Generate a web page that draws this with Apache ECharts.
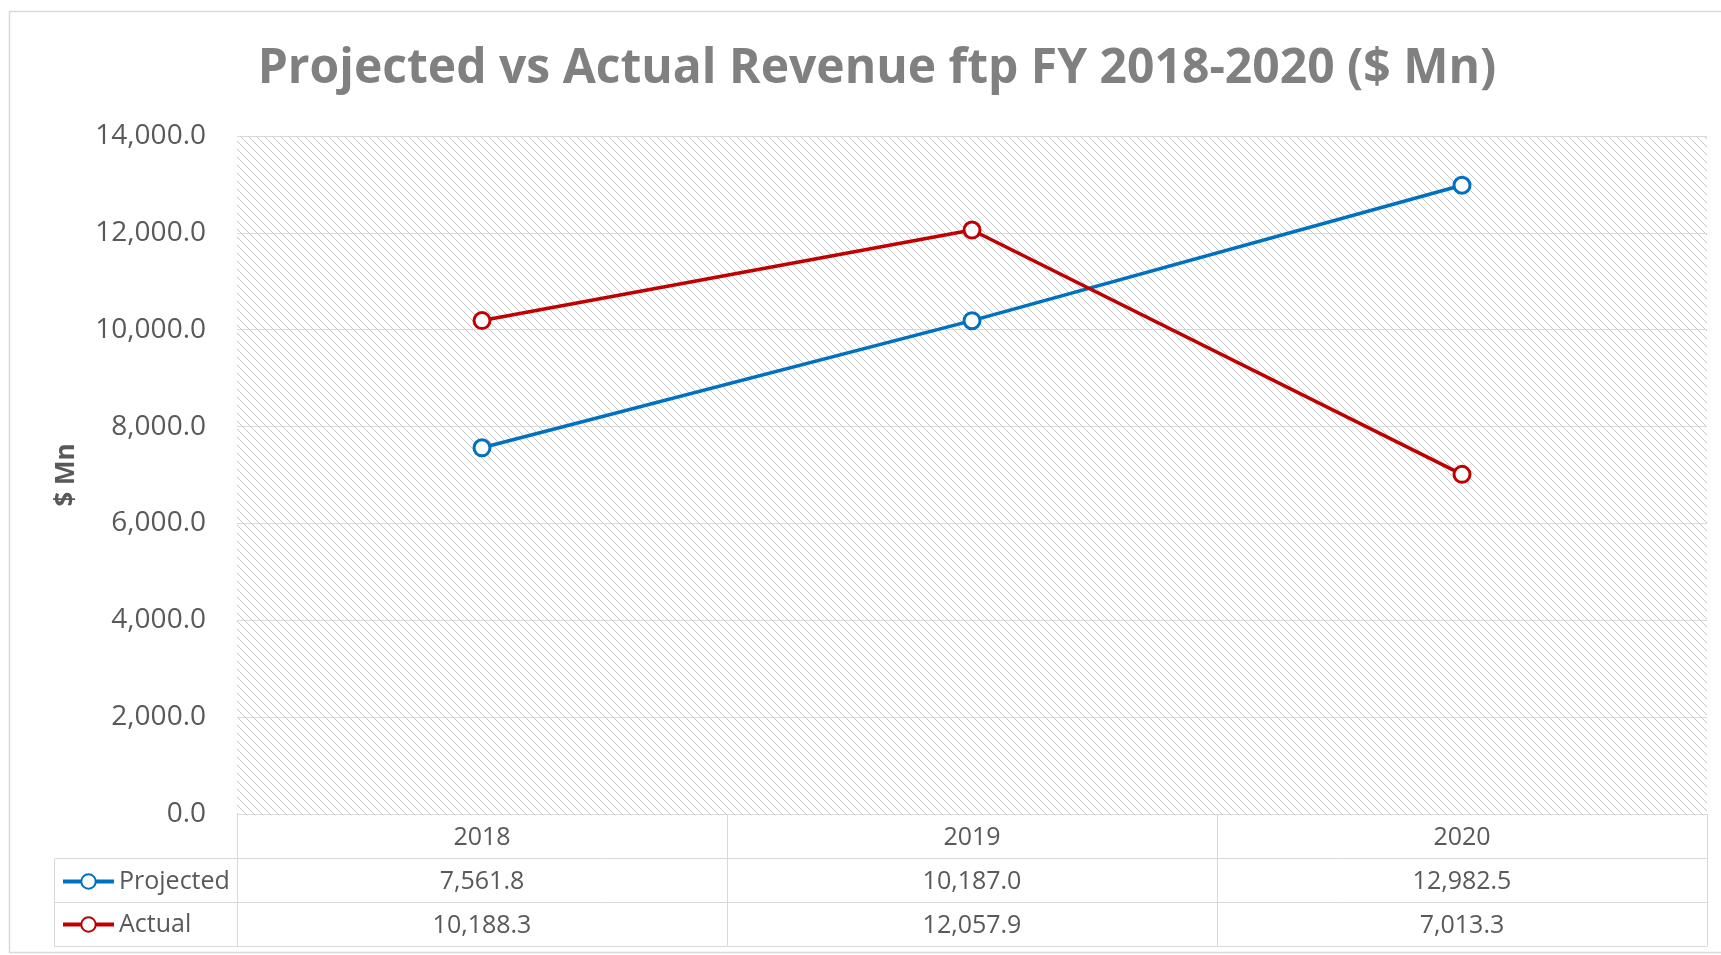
<!DOCTYPE html>
<html>
<head>
<meta charset="utf-8">
<title>Projected vs Actual Revenue</title>
<script src="https://cdn.jsdelivr.net/npm/echarts@6/dist/echarts.min.js"></script>
<style>
  html, body { margin: 0; padding: 0; background: #fff; }
  #chart { width: 1721px; height: 955px; }
</style>
</head>
<body>
<div id="chart"></div>
<script>
// data
const years = ['2018', '2019', '2020']
const projected = [7561.8, 10187.0, 12982.5]
const actual = [10188.3, 12057.9, 7013.3]
const yTicks = { min: 0, max: 14000, interval: 2000 }

const fmt = v => v.toLocaleString('en-US', { minimumFractionDigits: 1, maximumFractionDigits: 1 })

// hatched plot background
function hatch() {
  const c = document.createElement('canvas')
  c.width = 8
  c.height = 8
  const ctx = c.getContext('2d')
  ctx.fillStyle = '#ffffff'
  ctx.fillRect(0, 0, 8, 8)
  ctx.fillStyle = '#c6c6c6'
  for (let i = 0; i < 8; i++) {
    ctx.fillRect(i, i, 1, 1)
  }
  return c
}

const gray = '#595959'
const lineGray = '#d9d9d9'
const rowH = 44
const font = 'Open Sans'

function tableAxis(data, offset, showLabel) {
  return {
    type: 'category',
    data: data,
    position: 'bottom',
    offset: offset,
    boundaryGap: true,
    axisLine: { show: true, lineStyle: { color: lineGray, width: 1 } },
    axisTick: { show: showLabel, length: rowH, lineStyle: { color: lineGray, width: 1 } },
    axisLabel: { show: showLabel, margin: 11, color: gray, fontSize: 25, fontFamily: font },
    splitLine: { show: false }
  }
}

const myChart = echarts.init(document.getElementById('chart'))
myChart.setOption({
  backgroundColor: '#fff',
  animation: false,
  title: {
    text: 'Projected vs Actual Revenue ftp FY 2018-2020 ($ Mn)',
    left: 872,
    top: 40,
    textAlign: 'center',
    textStyle: { color: '#808080', fontSize: 48, fontWeight: 'bold', fontFamily: font }
  },
  legend: {
    orient: 'vertical',
    left: 56,
    top: 864,
    itemWidth: 51,
    itemHeight: 18,
    itemGap: 18,
    lineStyle: { width: 4 },
    textStyle: { color: gray, fontSize: 25, fontFamily: font },
    data: ['Projected', 'Actual']
  },
  grid: {
    left: 237,
    right: 14,
    top: 136,
    bottom: 141,
    show: true,
    borderWidth: 0,
    backgroundColor: { image: hatch(), repeat: 'repeat' }
  },
  xAxis: [
    tableAxis(years, 0, true),
    tableAxis(projected.map(fmt), rowH, true),
    tableAxis(actual.map(fmt), rowH * 2, true),
    tableAxis(years, rowH * 3, false)
  ],
  yAxis: {
    type: 'value',
    min: yTicks.min,
    max: yTicks.max,
    interval: yTicks.interval,
    name: '$ Mn',
    nameLocation: 'middle',
    nameRotate: 90,
    nameGap: 157,
    nameTextStyle: { color: gray, fontSize: 26, fontWeight: 'bold', fontFamily: font },
    axisLine: { show: false },
    axisTick: { show: false },
    axisLabel: { margin: 31, color: gray, fontSize: 28, fontFamily: font, formatter: fmt },
    splitLine: { lineStyle: { color: lineGray, width: 1 } }
  },
  series: [
    {
      name: 'Projected',
      type: 'line',
      data: projected,
      symbol: 'circle',
      symbolSize: 16,
      lineStyle: { color: '#0070C0', width: 3.5 },
      itemStyle: { color: '#ffffff', borderColor: '#0070C0', borderWidth: 3 },
      z: 3
    },
    {
      name: 'Actual',
      type: 'line',
      data: actual,
      symbol: 'circle',
      symbolSize: 16,
      lineStyle: { color: '#C00000', width: 3.5 },
      itemStyle: { color: '#ffffff', borderColor: '#C00000', borderWidth: 3 },
      z: 3
    }
  ],
  graphic: [
    // outer chart frame
    {
      type: 'rect',
      shape: { x: 9.5, y: 11.5, width: 1730, height: 941 },
      style: { fill: 'none', stroke: lineGray, lineWidth: 1.5 },
      silent: true
    },
    // row label column of the data table
    {
      type: 'polyline',
      shape: { points: [[237, 858.5], [54.5, 858.5], [54.5, 946.5], [237, 946.5]] },
      style: { fill: 'none', stroke: lineGray, lineWidth: 1 },
      silent: true
    },
    {
      type: 'line',
      shape: { x1: 54.5, y1: 902.5, x2: 237, y2: 902.5 },
      style: { stroke: lineGray, lineWidth: 1 },
      silent: true
    }
  ]
})
</script>
</body>
</html>
